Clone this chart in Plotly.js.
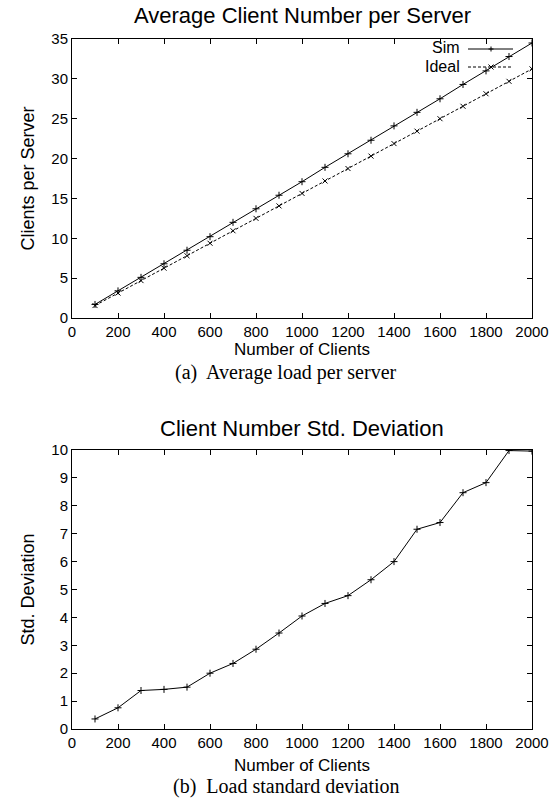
<!DOCTYPE html>
<html>
<head>
<meta charset="utf-8">
<script src="https://cdn.plot.ly/plotly-3.0.1.min.js"></script>
<style>html,body{margin:0;padding:0;background:#fff;}#chart{width:553px;height:799px;}</style>
</head>
<body>
<div id="chart"></div>
<script>
// ---- data ----
const clients = [100,200,300,400,500,600,700,800,900,1000,1100,1200,1300,1400,1500,1600,1700,1800,1900,2000];
const simLoad = [1.7,3.4,5.1,6.8,8.5,10.2,12.0,13.7,15.4,17.1,18.9,20.6,22.3,24.1,25.8,27.5,29.3,31.0,32.8,34.5];
const idealLoad = [1.56,3.13,4.69,6.25,7.81,9.38,10.94,12.5,14.06,15.63,17.19,18.75,20.31,21.88,23.44,25.0,26.56,28.13,29.69,31.25];
const stdDev = [0.36,0.76,1.38,1.42,1.5,2.0,2.35,2.86,3.44,4.05,4.5,4.78,5.35,6.0,7.16,7.4,8.47,8.83,9.98,9.96];
const xTicks = [0,200,400,600,800,1000,1200,1400,1600,1800,2000];
const topYTicks = [0,5,10,15,20,25,30,35];
const botYTicks = [0,1,2,3,4,5,6,7,8,9,10];
const titles = ["Average Client Number per Server","Client Number Std. Deviation"];
const captions = ["(a)  Average load per server","(b)  Load standard deviation"];
const legendNames = ['Sim','Ideal'];

const W = 553, H = 799;
const px = v => v / W;
const py = v => 1 - v / H;
const sans = "Liberation Sans, Arial, Helvetica, sans-serif";
const serif = "Liberation Serif, Times New Roman, serif";
const PL = 72, PR = 532;               // plot left/right (px)
const T1 = 39, B1 = 318, T2 = 450, B2 = 729;

const traces = [
  {x: clients, y: simLoad, xaxis:'x', yaxis:'y', mode:'lines+markers', name:legendNames[0],
   line:{color:'#000', width:1}, marker:{symbol:'cross-thin', size:5, line:{color:'#000', width:1}}, showlegend:false},
  {x: clients, y: idealLoad, xaxis:'x', yaxis:'y', mode:'lines+markers', name:legendNames[1],
   line:{color:'#000', width:1, dash:'3px,2px'}, marker:{symbol:'x-thin', size:5, line:{color:'#000', width:1}}, showlegend:false},
  {x: clients, y: stdDev, xaxis:'x2', yaxis:'y2', mode:'lines+markers', name:'Std',
   line:{color:'#000', width:1}, marker:{symbol:'cross-thin', size:5, line:{color:'#000', width:1}}, showlegend:false}
];

function xax(anchor, standoff){
  return {domain:[px(PL), px(PR)], range:[0,2000], anchor:anchor, tickvals:xTicks, ticks:'inside', ticklen:5,
    tickcolor:'#000', showline:true, linecolor:'#000', linewidth:1, mirror:'ticks', showgrid:false, zeroline:false,
    tickfont:{family:sans, size:15, color:'#000'},
    title:{text:'Number of Clients', font:{family:sans, size:17, color:'#000'}, standoff:standoff}};
}
function yax(anchor, dom, range, ticks, title){
  return {domain:dom, range:range, anchor:anchor, tickvals:ticks, ticks:'inside', ticklen:5,
    tickcolor:'#000', showline:true, linecolor:'#000', linewidth:1, mirror:'ticks', showgrid:false, zeroline:false,
    tickfont:{family:sans, size:15, color:'#000'},
    title:{text:title, font:{family:sans, size:18, color:'#000'}, standoff:12}};
}

const shapes = [];
const annotations = [];
// custom legend (gnuplot style: text then sample)
const legY = [48, 66];
for (let i=0;i<2;i++){
  annotations.push({xref:'paper', yref:'paper', x:px(461), y:py(legY[i]), xanchor:'right', yanchor:'middle',
    text:legendNames[i], showarrow:false, borderpad:0, font:{family:sans, size:16, color:'#000'}});
  shapes.push({type:'line', xref:'paper', yref:'paper', x0:px(468), x1:px(513), y0:py(legY[i]+1), y1:py(legY[i]+1),
    line:{color:'#000', width:1, dash: i===0 ? 'solid' : '3px,2px'}});
}
const cx = 491, s = 2.5;
shapes.push({type:'path', xref:'paper', yref:'paper',
  path:`M${px(cx-s)},${py(legY[0]+1)} L${px(cx+s)},${py(legY[0]+1)} M${px(cx)},${py(legY[0]+1-s)} L${px(cx)},${py(legY[0]+1+s)}`,
  line:{color:'#000', width:1}});
shapes.push({type:'path', xref:'paper', yref:'paper',
  path:`M${px(cx-s)},${py(legY[1]+1-s)} L${px(cx+s)},${py(legY[1]+1+s)} M${px(cx-s)},${py(legY[1]+1+s)} L${px(cx+s)},${py(legY[1]+1-s)}`,
  line:{color:'#000', width:1}});

// titles and captions
const midX = (PL+PR)/2;
annotations.push({xref:'paper', yref:'paper', x:px(midX), y:py(15), xanchor:'center', yanchor:'middle', text:titles[0],
  showarrow:false, font:{family:sans, size:22, color:'#000'}});
annotations.push({xref:'paper', yref:'paper', x:px(midX), y:py(428), xanchor:'center', yanchor:'middle', text:titles[1],
  showarrow:false, font:{family:sans, size:22, color:'#000'}});
annotations.push({xref:'paper', yref:'paper', x:px(286), y:py(372), xanchor:'center', yanchor:'middle', text:captions[0],
  showarrow:false, borderpad:0, font:{family:serif, size:20, color:'#000'}});
annotations.push({xref:'paper', yref:'paper', x:px(286), y:py(786), xanchor:'center', yanchor:'middle', text:captions[1],
  showarrow:false, borderpad:0, font:{family:serif, size:20, color:'#000'}});

const layout = {
  width:W, height:H, margin:{l:0,r:0,t:0,b:0}, paper_bgcolor:'#fff', plot_bgcolor:'#fff',
  showlegend:false,
  xaxis: xax('y', 4),
  yaxis: yax('x', [py(B1), py(T1)], [0,35], topYTicks, 'Clients per Server'),
  xaxis2: xax('y2', 9),
  yaxis2: yax('x2', [py(B2), py(T2)], [0,10], botYTicks, 'Std. Deviation'),
  shapes: shapes,
  annotations: annotations
};

Plotly.newPlot('chart', traces, layout, {displayModeBar:false, staticPlot:true});
</script>
</body>
</html>
